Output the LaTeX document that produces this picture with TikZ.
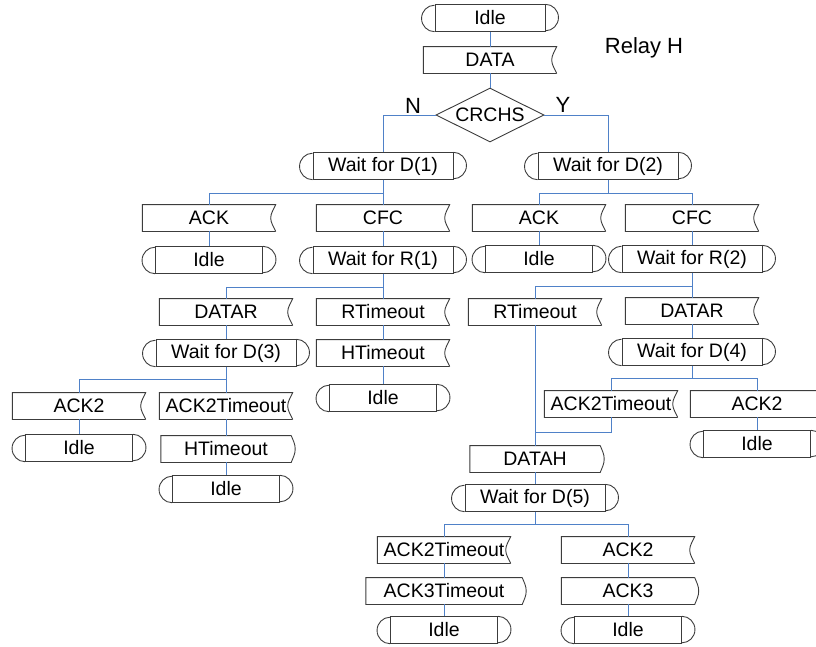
\documentclass[tikz,border=0pt]{standalone}
\usepackage{fontspec}
\setmainfont{Liberation Sans}
\usetikzlibrary{shapes.geometric}
\definecolor{conn}{RGB}{79,129,200}
\definecolor{outl}{RGB}{60,60,60}
\tikzset{
  base/.style={font=\fontsize{19.5}{21}\selectfont, inner sep=0pt, minimum height=26.5pt, text=black},
  outline/.style={draw=outl, line width=0.9pt},
  stateshape/.style={base, outline, minimum width=#1},
  inshape/.style={base, minimum width=133pt},
  outshape/.style={base, minimum width=#1},
  decision/.style={diamond, outline, font=\fontsize{19.5}{21}\selectfont, inner sep=0pt, aspect=2, minimum width=108pt, minimum height=54pt},
  wire/.style={draw=conn, line width=0.9pt},
  biglabel/.style={font=\fontsize{22}{24}\selectfont, inner sep=0pt},
}
\begin{document}
\begin{tikzpicture}[x=1pt,y=-1pt]
\useasboundingbox (0,0) rectangle (816,646);
\clip (0,0) rectangle (816,646);

% states
\node[stateshape=110pt] (s0) at (490,18) {Idle};
\node[stateshape=140pt] (s1) at (383,166) {Wait for D(1)};
\node[stateshape=140pt] (s2) at (608,166) {Wait for D(2)};
\node[stateshape=107pt] (s3) at (209,260) {Idle};
\node[stateshape=140pt] (s4) at (383,260) {Wait for R(1)};
\node[stateshape=107pt] (s5) at (539,259) {Idle};
\node[stateshape=140pt] (s6) at (692,259) {Wait for R(2)};
\node[stateshape=140pt] (s7) at (226,353) {Wait for D(3)};
\node[stateshape=107pt] (s8) at (383,398) {Idle};
\node[stateshape=140pt] (s9) at (692,352) {Wait for D(4)};
\node[stateshape=107pt] (s10) at (757,444) {Idle};
\node[stateshape=107pt] (s11) at (79,448) {Idle};
\node[stateshape=107pt] (s12) at (226,489) {Idle};
\node[stateshape=140pt] (s13) at (535,498) {Wait for D(5)};
\node[stateshape=107pt] (s14) at (444,630) {Idle};
\node[stateshape=107pt] (s15) at (628,630) {Idle};

% inputs
\node[inshape] (i0) at (490,60) {DATA};
\node[inshape] (i1) at (209,218) {ACK};
\node[inshape] (i2) at (383,218) {CFC};
\node[inshape] (i3) at (539,218) {ACK};
\node[inshape] (i4) at (692,218) {CFC};
\node[inshape] (i5) at (226,312) {DATAR};
\node[inshape] (i6) at (383,312) {RTimeout};
\node[inshape] (i7) at (383,353) {HTimeout};
\node[inshape] (i8) at (535,312) {RTimeout};
\node[inshape] (i9) at (692,311) {DATAR};
\node[inshape] (i10) at (79,406) {ACK2};
\node[inshape] (i11) at (226,406) {ACK2Timeout};
\node[inshape] (i12) at (611,404) {ACK2Timeout};
\node[inshape] (i13) at (757,404) {ACK2};
\node[inshape] (i14) at (444,550) {ACK2Timeout};
\node[inshape] (i15) at (628,550) {ACK2};

% outputs
\node[outshape=130pt] (o1) at (226,449) {HTimeout};
\node[outshape=130pt] (o2) at (535,459) {DATAH};
\node[outshape=156pt] (o3) at (444,591) {ACK3Timeout};
\node[outshape=133pt] (o4) at (628,591) {ACK3};

% decision
\node[decision] (d) at (490,115) {CRCHS};

% labels
\node[biglabel] (lN) at (413,106) {N};
\node[biglabel] (lY) at (563,105) {Y};
\node[biglabel] (title) at (644,48) {Relay H};

% state caps
\foreach \n in {s0,s1,s2,s3,s4,s5,s6,s7,s8,s9,s10,s11,s12,s13,s14,s15}{
  \draw[outline] (\n.north east) arc[start angle=90,end angle=-90,x radius=13pt,y radius=13.25pt];
  \draw[outline] (\n.south west) arc[start angle=270,end angle=90,x radius=13pt,y radius=13.25pt];
}
% input outlines
\foreach \n in {i0,i1,i2,i3,i4,i5,i6,i7,i8,i9,i10,i11,i12,i13,i14,i15}{
  \draw[outline] (\n.south east) -- (\n.south west) -- (\n.north west) -- (\n.north east)
    .. controls +(-2pt,-5pt) and +(0pt,5pt) .. ([xshift=-5pt]\n.east)
    .. controls +(0pt,-5pt) and +(-2pt,5pt) .. (\n.south east);
}
% output outlines
\foreach \n in {o1,o2,o3,o4}{
  \draw[outline] (\n.north east) -- (\n.north west) -- (\n.south west) -- (\n.south east)
    .. controls +(2pt,5pt) and +(0pt,-5pt) .. ([xshift=4pt]\n.east)
    .. controls +(0pt,5pt) and +(2pt,-5pt) .. (\n.north east);
}

% connectors
\draw[wire] (s0.south) -- (i0.north);
\draw[wire] (i0.south) -- (d.north);
\draw[wire] (d.west) -| (s1.north);
\draw[wire] (d.east) -| (s2.north);
\draw[wire] (s1.south) -- ++(0,14) -| (i1.north);
\draw[wire] (s1.south) -- (i2.north);
\draw[wire] (s2.south) -- ++(0,14) -| (i3.north);
\draw[wire] (s2.south) -- ++(0,14) -| (i4.north);
\draw[wire] (i1.south) -- (s3.north);
\draw[wire] (i2.south) -- (s4.north);
\draw[wire] (i3.south) -- (s5.north);
\draw[wire] (i4.south) -- (s6.north);
\draw[wire] (s4.south) -- ++(0,14) -| (i5.north);
\draw[wire] (s4.south) -- (i6.north);
\draw[wire] (s6.south) -- ++(0,14) -| (i8.north);
\draw[wire] (s6.south) -- (i9.north);
\draw[wire] (i5.south) -- (s7.north);
\draw[wire] (i6.south) -- (i7.north);
\draw[wire] (i7.south) -- (s8.north);
\draw[wire] (i9.south) -- (s9.north);
\draw[wire] (s7.south) -- ++(0,13) -| (i10.north);
\draw[wire] (s7.south) -- (i11.north);
\draw[wire] (i10.south) -- (s11.north);
\draw[wire] (i11.south) -- (o1.north);
\draw[wire] (o1.south) -- (s12.north);
\draw[wire] (s9.south) -- ++(0,13) -| (i12.north);
\draw[wire] (s9.south) -- ++(0,13) -| (i13.north);
\draw[wire] (i13.south) -- (s10.north);
\draw[wire] (i8.south) -- (o2.north);
\draw[wire] (i12.south) -- ++(0,15) -| (o2.north);
\draw[wire] (o2.south) -- (s13.north);
\draw[wire] (s13.south) -- ++(0,13) -| (i14.north);
\draw[wire] (s13.south) -- ++(0,13) -| (i15.north);
\draw[wire] (i14.south) -- (o3.north);
\draw[wire] (o3.south) -- (s14.north);
\draw[wire] (i15.south) -- (o4.north);
\draw[wire] (o4.south) -- (s15.north);
\end{tikzpicture}
\end{document}
